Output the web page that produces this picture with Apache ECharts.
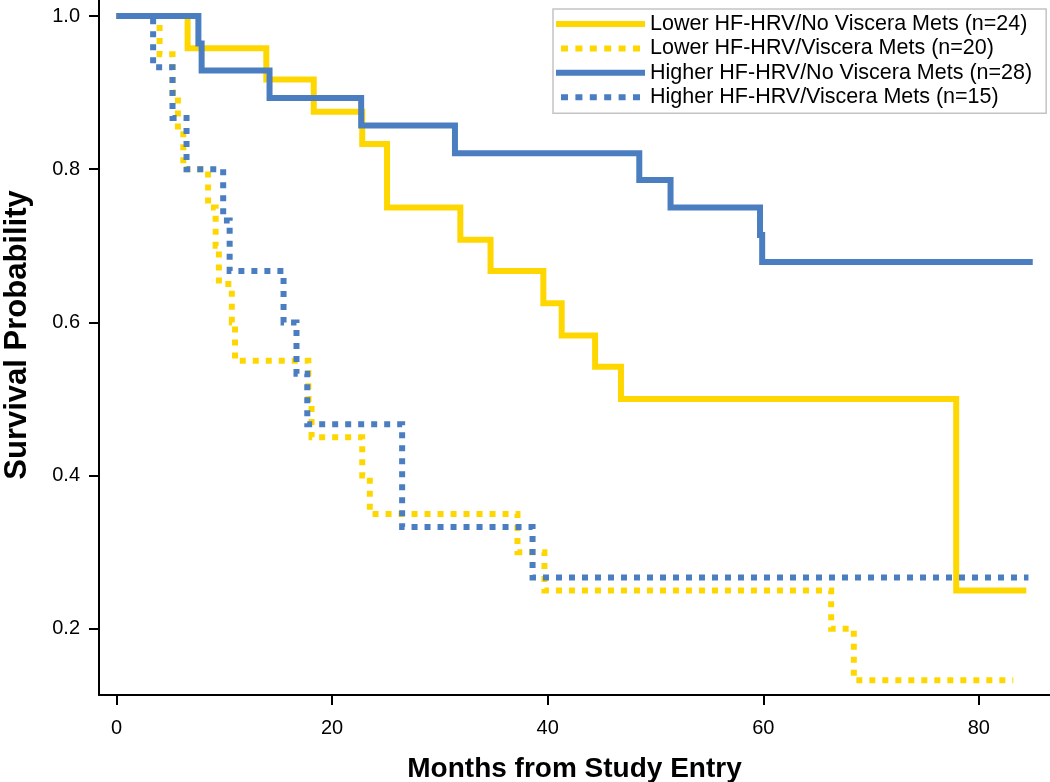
<!DOCTYPE html>
<html>
<head>
<meta charset="utf-8">
<script src="https://cdn.jsdelivr.net/npm/echarts@6/dist/echarts.min.js"></script>
<style>
html,body{margin:0;padding:0;background:#fff;}
#chart{width:1050px;height:782px;}
</style>
</head>
<body>
<div id="chart"></div>
<script>
// ---- Data ----
const seriesNames = [
  'Lower HF-HRV/No Viscera Mets (n=24)',
  'Lower HF-HRV/Viscera Mets (n=20)',
  'Higher HF-HRV/No Viscera Mets (n=28)',
  'Higher HF-HRV/Viscera Mets (n=15)'
];
// Lower HF-HRV / No Viscera Mets
const lowerNoVisT = [0, 6.6, 13.9, 18.3, 22.8, 25.1, 31.9, 34.7, 39.6, 41.3, 44.4, 46.8, 77.9, 84.4];
const lowerNoVisS = [1, 0.958, 0.917, 0.875, 0.833, 0.75, 0.708, 0.667, 0.625, 0.583, 0.542, 0.5, 0.25, 0.25];
// Lower HF-HRV / Viscera Mets
const lowerVisT = [0, 4.0, 5.2, 5.7, 6.2, 8.5, 9.2, 9.5, 10.7, 11.0, 17.8, 18.1, 22.8, 23.5, 37.2, 39.7, 66.3, 68.4, 83.2];
const lowerVisS = [1, 0.95, 0.9, 0.85, 0.8, 0.75, 0.7, 0.65, 0.6, 0.55, 0.5, 0.45, 0.4, 0.35, 0.3, 0.25, 0.2, 0.133, 0.133];
// Higher HF-HRV / No Viscera Mets
const higherNoVisT = [0, 7.6, 7.9, 14.2, 22.7, 31.4, 48.5, 51.4, 59.7, 59.9, 85.0];
const higherNoVisS = [1, 0.964, 0.929, 0.893, 0.857, 0.821, 0.786, 0.75, 0.714, 0.679, 0.679];
// Higher HF-HRV / Viscera Mets
const higherVisT = [0, 3.4, 5.2, 6.5, 9.9, 10.5, 15.5, 16.7, 17.7, 26.5, 38.6, 84.6];
const higherVisS = [1, 0.933, 0.867, 0.8, 0.733, 0.667, 0.6, 0.533, 0.467, 0.333, 0.267, 0.267];

const xTicks = [0, 20, 40, 60, 80];
const yTicks = [0.2, 0.4, 0.6, 0.8, 1.0];

// ---- Build ----
const YELLOW = '#FFD700';
const BLUE = '#4A7EC0';
const FONT = 'Liberation Sans, Arial, sans-serif';
const SOLID_ICON = 'path://M0 0 L89 0 L89 6 L0 6 Z';
const DASH_ICON = 'path://' + [0, 1, 2, 3, 4, 5].map(i => {
  const x = i * 14.4;
  return 'M' + x + ' 0 L' + (x + 7) + ' 0 L' + (x + 7) + ' 6 L' + x + ' 6 Z';
}).join(' ');

function zip(t, s) { return t.map((v, i) => [v, s[i]]); }
function mk(name, t, s, color, dashed) {
  return {
    name: name, type: 'line', step: 'end', data: zip(t, s),
    showSymbol: false, symbol: 'none', silent: true, animation: false,
    lineStyle: { color: color, width: 6, type: dashed ? [6, 7] : 'solid', cap: 'butt', join: 'miter' },
    itemStyle: { color: color }
  };
}

const chart = echarts.init(document.getElementById('chart'), null, { renderer: 'canvas' });
chart.setOption({
  animation: false,
  backgroundColor: '#fff',
  textStyle: { fontFamily: FONT },
  grid: { left: 99, right: 0, top: 0, bottom: 87, containLabel: false, outerBoundsMode: 'none' },
  legend: {
    orient: 'vertical', left: 553, top: 9,
    data: [
      { name: seriesNames[0], icon: SOLID_ICON },
      { name: seriesNames[1], icon: DASH_ICON },
      { name: seriesNames[2], icon: SOLID_ICON },
      { name: seriesNames[3], icon: DASH_ICON }
    ],
    itemWidth: 89, itemHeight: 6, itemGap: 2.4,
    padding: [4, 14, 5, 3],
    borderColor: '#c4c4c4', borderWidth: 1.5,
    textStyle: { fontSize: 21.5, color: '#000', fontFamily: FONT, lineHeight: 21 },
    selectedMode: false
  },
  xAxis: {
    type: 'value', min: -1.62, max: 86.6,
    name: 'Months from Study Entry', nameLocation: 'middle', nameGap: 60,
    nameTextStyle: { fontSize: 28, fontWeight: 'bold', color: '#000', fontFamily: FONT },
    axisLine: { show: true, onZero: false, lineStyle: { color: '#000', width: 2 } },
    axisTick: { show: true, customValues: xTicks, length: 10, lineStyle: { color: '#000', width: 2 } },
    axisLabel: { customValues: xTicks, fontSize: 20, color: '#000', margin: 23, fontFamily: FONT },
    splitLine: { show: false }
  },
  yAxis: {
    type: 'value', min: 0.1136, max: 1.0209,
    name: 'Survival Probability', nameLocation: 'middle', nameGap: 66,
    nameTextStyle: { fontSize: 31, fontWeight: 'bold', color: '#000', fontFamily: FONT, padding: [0, 0, 0, 25] },
    axisLine: { show: true, onZero: false, lineStyle: { color: '#000', width: 2 } },
    axisTick: { show: true, customValues: yTicks, length: 10, lineStyle: { color: '#000', width: 2 } },
    axisLabel: { customValues: yTicks, fontSize: 20, color: '#000', margin: 19, fontFamily: FONT,
      formatter: v => Number(v).toFixed(1) },
    splitLine: { show: false }
  },
  series: [
    mk(seriesNames[0], lowerNoVisT, lowerNoVisS, YELLOW, false),
    mk(seriesNames[1], lowerVisT, lowerVisS, YELLOW, true),
    mk(seriesNames[2], higherNoVisT, higherNoVisS, BLUE, false),
    mk(seriesNames[3], higherVisT, higherVisS, BLUE, true)
  ]
});
</script>
</body>
</html>
